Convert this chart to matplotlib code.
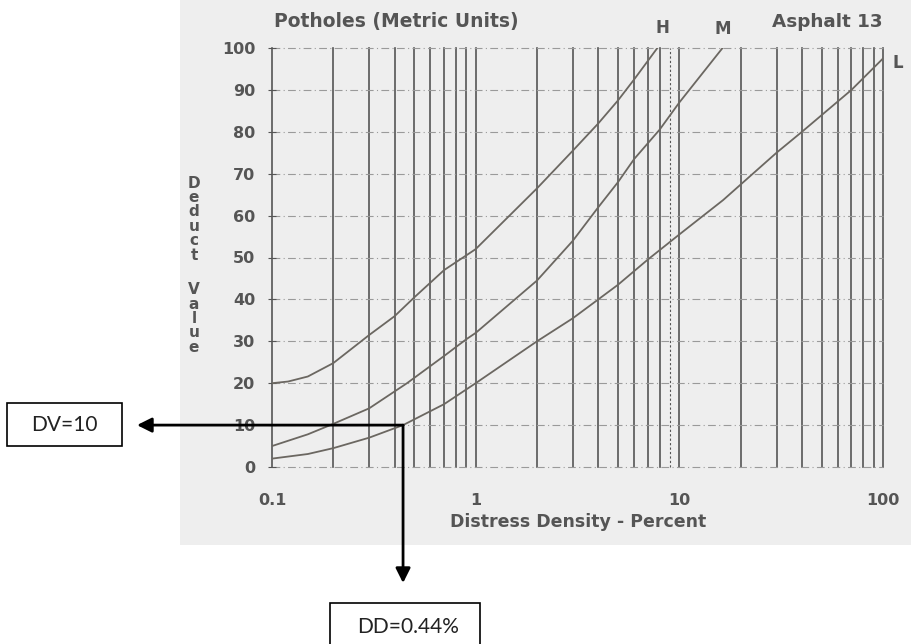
import matplotlib
matplotlib.use("Agg")
import matplotlib.pyplot as plt
from matplotlib.patches import Rectangle

W, H = 912, 644

# deduct value curves (distress density %, deduct value)
dd_H = [0.1, 0.12, 0.15, 0.2, 0.3, 0.4, 0.5, 0.7, 1, 2, 3, 4, 5, 6, 7.8]
dv_H = [20, 20.4, 21.6, 24.8, 31.5, 36, 40.5, 47, 52, 66.5, 75.5, 82, 87.5, 92.5, 100]

dd_M = [0.1, 0.15, 0.2, 0.3, 0.46, 0.7, 0.9, 1, 2, 3, 4, 5, 6, 8, 10, 16.3]
dv_M = [5, 7.8, 10.3, 14, 20, 26.5, 30.5, 32, 44.5, 54, 62, 68, 73.5, 80.5, 87, 100]

dd_L = [0.1, 0.15, 0.2, 0.3, 0.44, 0.7, 1, 2, 3, 4, 5, 7, 10, 16.4, 30, 40, 70, 100]
dv_L = [2, 3.1, 4.5, 7, 10, 15, 20, 30, 35.5, 40, 43.5, 49.5, 55.5, 63.7, 75, 80, 90, 97.5]

curve_names = ["H", "M", "L"]
label_pos = [(8.3, 104.8), (16.3, 104.5), (118, 96.4)]

x_ticks = [0.1, 1, 10, 100]
x_tick_labels = ["0.1", "1", "10", "100"]
y_ticks = list(range(0, 101, 10))

# worked example on the chart
dd_read, dv_read = 0.44, 10

ink = "#555555"
curve_col = "#6b6761"

fig = plt.figure(figsize=(W / 100, H / 100), dpi=100)

def fx(px):
    return px / W

def fy(py):
    return 1 - py / H

# scanned page background
fig.patches.append(Rectangle((fx(180), fy(545)), 1, 1, transform=fig.transFigure,
                             facecolor="#eeeeee", edgecolor="none", zorder=-10))

ax = fig.add_axes([fx(272), fy(467), (883 - 272) / W, (467 - 48) / H])
ax.set_facecolor("none")
ax.set_xscale("log")
ax.set_xlim(0.1, 100)
ax.set_ylim(0, 100)

# log grid: solid verticals, dash-dot horizontals
for dec in [0.1, 1, 10]:
    for k in range(1, 10):
        v = k * dec
        ls = (0, (2, 2)) if (dec == 1 and k == 9) else "-"
        lw = 0.8 if (dec == 1 and k == 9) else 1.2
        ax.axvline(v, color=ink, lw=lw, ls=ls, zorder=1, clip_on=False)
ax.axvline(100, color=ink, lw=1.2, zorder=1, clip_on=False)
for y in y_ticks:
    ax.axhline(y, color="#9a9a9a", lw=0.8, ls=(0, (7, 3, 1, 3)), zorder=1,
               clip_on=False)

for dd, dv in [(dd_H, dv_H), (dd_M, dv_M), (dd_L, dv_L)]:
    ax.plot(dd, dv, color=curve_col, lw=1.3, zorder=2)

for name, (lx, ly) in zip(curve_names, label_pos):
    ax.text(lx, ly, name, ha="center", va="center", fontsize=12,
            weight="bold", color=ink)

for s in ax.spines.values():
    s.set_visible(False)
ax.set_xticks(x_ticks)
ax.set_xticklabels(x_tick_labels)
ax.minorticks_off()
ax.set_yticks(y_ticks)
ax.tick_params(axis="x", length=0, pad=19, labelsize=11.5, labelcolor=ink)
ax.tick_params(axis="y", length=6, direction="inout", color=ink, pad=9,
               labelsize=11.5, labelcolor=ink)
for t in ax.get_xticklabels() + ax.get_yticklabels():
    t.set_fontweight("bold")

fig.text(fx(396), fy(22), "Potholes (Metric Units)", ha="center", va="center",
         fontsize=13.5, weight="bold", color=ink)
fig.text(fx(827), fy(22), "Asphalt 13", ha="center", va="center",
         fontsize=13.2, weight="bold", color=ink)
fig.text(fx(578), fy(522), "Distress Density - Percent", ha="center", va="center",
         fontsize=12.5, weight="bold", color=ink)

# stacked y label
for i, ch in enumerate("Deduct"):
    fig.text(fx(194), fy(183 + 14.4 * i), ch, ha="center", va="center",
             fontsize=11, weight="bold", color=ink)
for i, ch in enumerate("Value"):
    fig.text(fx(194), fy(290 + 14.3 * i), ch, ha="center", va="center",
             fontsize=11, weight="bold", color=ink)

# reading arrows
arrow = dict(arrowstyle="-|>", color="black", lw=2, mutation_scale=22,
             shrinkA=0, shrinkB=0)
ax.annotate("", xy=(fx(137), dv_read), xycoords=("figure fraction", "data"),
            xytext=(dd_read, dv_read), textcoords="data", arrowprops=arrow,
            annotation_clip=False, zorder=5)
ax.annotate("", xy=(dd_read, fy(583)), xycoords=("data", "figure fraction"),
            xytext=(dd_read, dv_read), textcoords="data", arrowprops=arrow,
            annotation_clip=False, zorder=5)

# answer boxes
fig.patches.append(Rectangle((fx(7), fy(446)), (122 - 7) / W, (446 - 403) / H,
                             transform=fig.transFigure, facecolor="white",
                             edgecolor="black", lw=1.2))
fig.text(fx(64), fy(425), "DV=%d" % dv_read, ha="center", va="center",
         fontsize=15, family="Lato", color="#222222")
fig.patches.append(Rectangle((fx(330), fy(650)), (480 - 330) / W, (650 - 603) / H,
                             transform=fig.transFigure, facecolor="white",
                             edgecolor="black", lw=1.2))
fig.text(fx(408), fy(627), "DD=%.2f%%" % dd_read, ha="center", va="center",
         fontsize=15, family="Lato", color="#222222")

fig.savefig("out.png", dpi=100)
